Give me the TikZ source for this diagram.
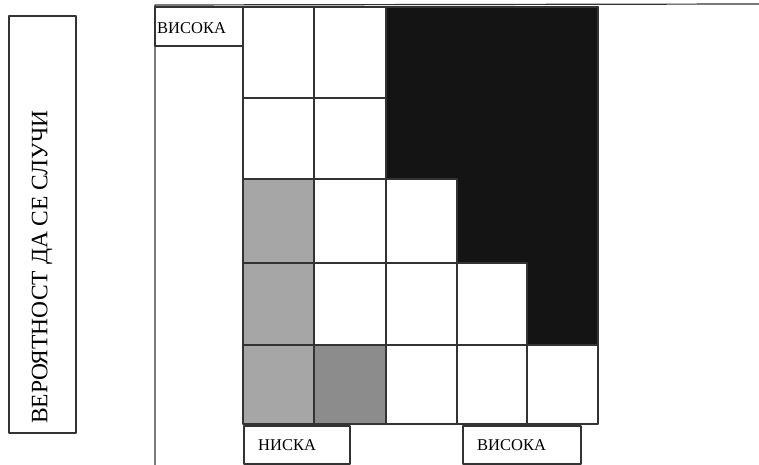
\documentclass[tikz,border=0pt]{standalone}
\usepackage{fontspec}
\setmainfont{Liberation Serif}
\begin{document}
\begin{tikzpicture}[x=1pt, y=-1pt, line join=round, line cap=round,
	frame/.style={draw=black!80, line width=1.2pt},
	lowrisk/.style={fill=black!35},
	midrisk/.style={fill=black!45},
	highrisk/.style={fill=black!92},
	levellabel/.style={font=\fontsize{16.5}{18}\selectfont, inner sep=0pt, anchor=west}]
		\useasboundingbox (0,0) rectangle (759,465);
		% axes
		\coordinate (O) at (155,5);
		\coordinate (Xend) at (759,4);
		\coordinate (Yend) at (155,465);
		\draw[frame] (Xend) -- (O) -- (Yend);
		% cells
		\fill[lowrisk] (243,179) rectangle (314,424);
		\fill[midrisk] (314,345) rectangle (386,424);
		\foreach \y in {7,98,179,263,345,424}
			\draw[frame] (243,\y) -- (598,\y);
		\foreach \x in {243,314,386,457,527,598}
			\draw[frame] (\x,7) -- (\x,424);
		\filldraw[highrisk, frame] (386,7) -- (598,7) -- (598,345) -- (527,345)
			-- (527,263) -- (457,263) -- (457,179) -- (386,179) -- cycle;
		% level boxes
		\draw[frame] (155,7) rectangle (243,46);
		\draw[frame] (244,426) rectangle (350,464);
		\draw[frame] (463,426) rectangle (581,464);
		\node[levellabel] (yhigh) at (157,28) {ВИСОКА};
		\node[levellabel] (xlow) at (258,445) {НИСКА};
		\node[levellabel] (xhigh) at (477,445) {ВИСОКА};
		% axis title
		\draw[frame] (9,16) rectangle (76,433);
		\node[rotate=90, inner sep=0pt, font=\fontsize{23.5}{26}\selectfont] (prob) at (42,267) {ВЕРОЯТНОСТ ДА СЕ СЛУЧИ};
\end{tikzpicture}
\end{document}
